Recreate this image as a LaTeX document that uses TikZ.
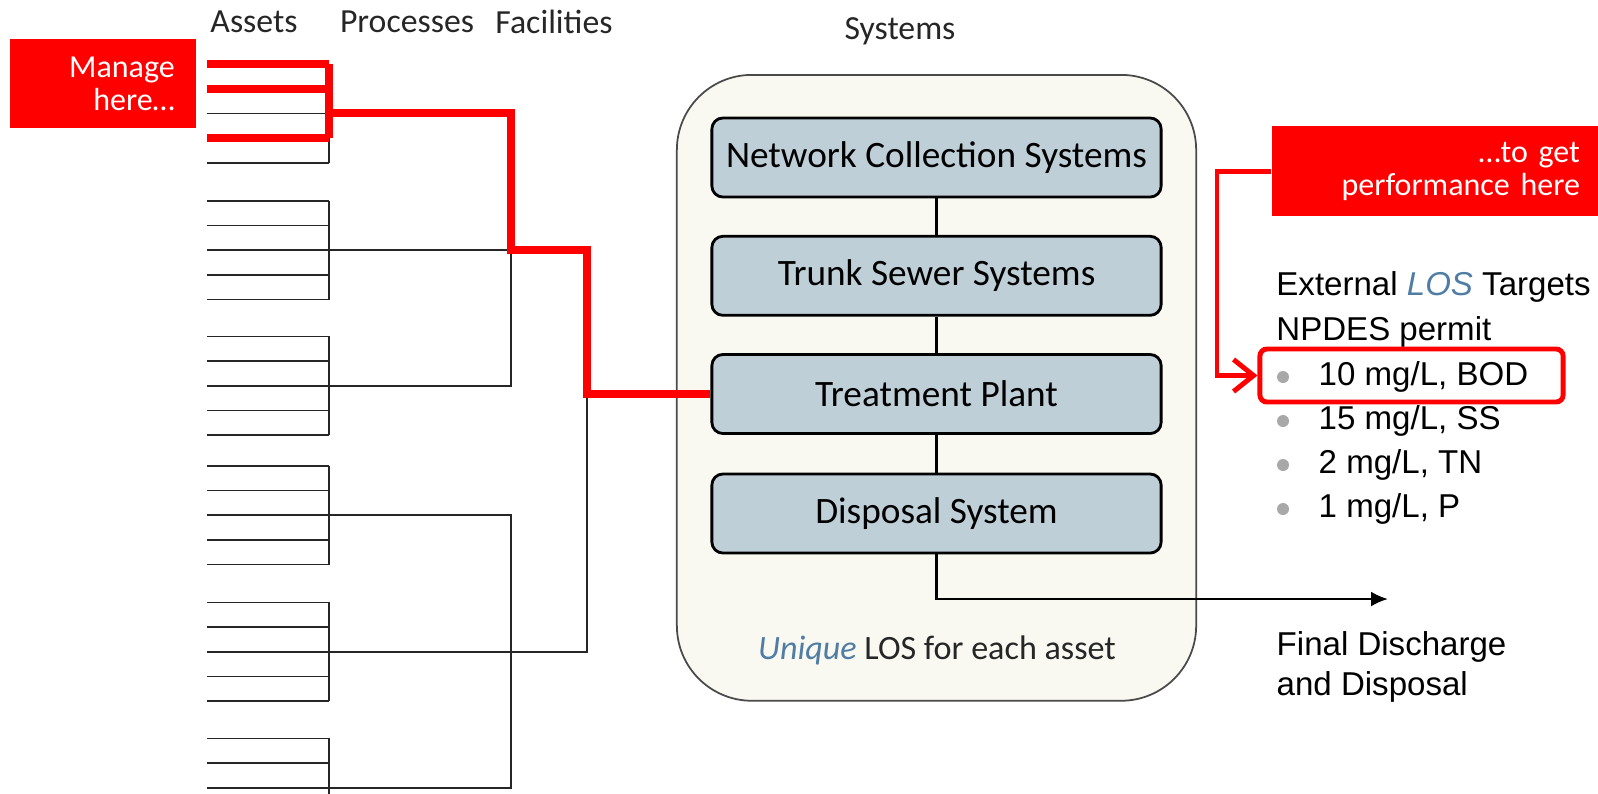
\documentclass[tikz,border=0pt]{standalone}
\usepackage{fontspec}
\setmainfont{Carlito}
\newfontfamily\arial{Liberation Sans}
\usepackage{xcolor}
\definecolor{sys_fill}{HTML}{BFCFD7}
\definecolor{panel_fill}{HTML}{F9F9F2}
\definecolor{panel_line}{HTML}{4A4A4A}
\definecolor{los_blue}{HTML}{4F7DA3}
\definecolor{dot_gray}{HTML}{A8A8A8}
\usetikzlibrary{arrows.meta,positioning,calc}

\begin{document}
\begin{tikzpicture}[x=0.01cm,y=-0.01cm]
\tikzset{
    head/.style={font=\fontsize{9.6}{11}\selectfont, text=black!85},
    sysbox/.style={draw, line width=0.8pt, fill=sys_fill, rounded corners=0.11cm,
      minimum width=4.49cm, minimum height=0.79cm, font=\fontsize{10.6}{12}\selectfont},
    redbox/.style={fill=red, text=white, align=right, inner xsep=0.21cm,
      font=\fontsize{9.1}{9.5}\selectfont},
    tree/.style={line width=0.45pt, black!85},
    hl/.style={red, line width=2.3pt},
    txt/.style={font=\arial\fontsize{9.4}{11.3}\selectfont, inner sep=0pt}
}
\path[use as bounding box, clip] (0,0) rectangle (1598,793);
% headers
\node[head] (assets) at (254,22) {Assets};
\node[head] (processes) at (407,22) {Processes};
\node[head] (facilities) at (554,22) {Facilities};
\node[head] (systems) at (900,31) {Systems};
% red notes
\node[redbox, anchor=north west, text width=1.435cm, minimum height=0.883cm] (manage) at (9.5,38.7) {Manage\\here\dots};
\node[redbox, anchor=north west, text width=2.87cm, minimum height=0.9cm] (perf) at (1271,125.7) {\dots to get\\performance here};
% systems panel
\node[draw=panel_line, line width=0.5pt, fill=panel_fill, rounded corners=0.75cm,
  minimum width=5.19cm, minimum height=6.255cm] (panel) at (936.5,387.8) {};
\node[sysbox] (ncs) at (936.5,157.5) {Network Collection Systems};
\node[sysbox] (tss) at (936.5,275.8) {Trunk Sewer Systems};
\node[sysbox] (tp) at (936.5,394) {Treatment Plant};
\node[sysbox] (ds) at (936.5,513.5) {Disposal System};
\node[font=\fontsize{9.7}{12}\selectfont, text=black!85] (unique) at (937,650)
  {\textcolor{los_blue}{\textit{Unique}} LOS for each asset};
\draw[line width=0.7pt] (ncs) -- (tss);
\draw[line width=0.7pt] (tss) -- (tp);
\draw[line width=0.7pt] (tp) -- (ds);
\coordinate (final) at (1388,599);
\draw[line width=0.7pt, -{Latex[length=0.17cm, width=0.15cm]}] (ds.south) |- (final);
\node[txt, anchor=base west, align=left] (discharge) at (1276,695) {Final Discharge\\and Disposal};
% targets
\node[txt, anchor=base west] (ext) at (1275.7,295) {External \textcolor{los_blue}{\textit{LOS}} Targets};
\node[txt, anchor=base west] (npdes) at (1275.7,340) {NPDES permit};
\foreach \t [count=\i] in {{10 mg/L, BOD},{15 mg/L, SS},{2 mg/L, TN},{1 mg/L, P}}{
  \fill[dot_gray] (1283,377+\i*44-44) circle (0.06cm) coordinate (dot\i);
  \node[txt, anchor=base west] (item\i) at (1318,385+\i*44-44) {\t};
}
\node[draw=red, line width=1.4pt, rounded corners=0.07cm, minimum width=3.03cm,
  minimum height=0.53cm] (bod) at (1411.5,375.5) {};
\draw[red, line width=1.4pt, -{Straight Barb[length=0.2cm, width=0.32cm]}]
  (perf.west) -- ++(-54,0) |- (bod.west);
% assets and processes
\foreach \g/\top in {1/64,2/200.7,3/336.3,4/465.7,5/602.3,6/738.3}{
  \foreach \k in {0,...,4}
    \draw[tree] (207,\top+\k*24.7) -- (329,\top+\k*24.7);
  \draw[tree] (329,\top) -- (329,\top+98.8);
  \coordinate (p\g) at (329,\top+49.4);
}
% facilities
\coordinate (fac1) at (511,250.1);
\coordinate (fac2) at (511,651.7);
\coordinate (sys) at (587,394);
\draw[tree] (p1) -- (p1 -| fac1) -- (p3 -| fac1) -- (p3);
\draw[tree] (p2) -- (fac1) -- (fac1 -| sys) -- (fac2 -| sys) -- (fac2);
\draw[tree] (p4) -- (p4 -| fac2) -- (p6 -| fac2) -- (p6);
\draw[tree] (p5) -- (fac2);
% managed path
\draw[hl] (207,64) -- (329,64);
\draw[hl] (207,88.7) -- (329,88.7);
\draw[hl] (207,138.1) -- (329,138.1);
\draw[hl] (329,64) -- (329,138.1);
\draw[hl] (p1) -- (p1 -| fac1) -- (fac1) -- (fac1 -| sys) -- (sys) -- (tp.west);
\end{tikzpicture}
\end{document}
